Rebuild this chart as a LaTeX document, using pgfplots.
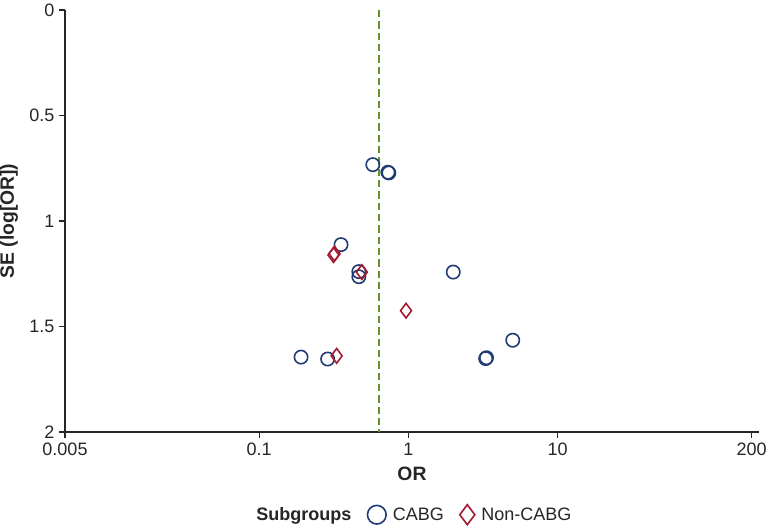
\documentclass[border=0pt]{standalone}
\usepackage{pgfplots}
\pgfplotsset{compat=1.18}
\usepackage{fontspec}
\setmainfont{Liberation Sans}
\definecolor{cabg}{HTML}{1F3B73}
\definecolor{noncabg}{HTML}{A3192E}
\definecolor{refline}{HTML}{62922A}

\begin{document}
\begin{tikzpicture}
\begin{axis}[
    name=ax,
    scale only axis,
    width=520.5pt, height=316.5pt,
    xmode=log,
    xmin=0.005, xmax=224,
    ymin=0, ymax=2,
    y dir=reverse,
    axis lines=left,
    axis line style={-, line width=1.2pt, black!85},
    xtick={0.005,0.1,1,10,200},
    xticklabels={0.005,0.1,1,10,200},
    ytick={0,0.5,1,1.5,2},
    yticklabels={0,0.5,1,1.5,2},
    minor tick num=0,
    tick align=outside,
    major tick length=4.5pt,
    tick style={black!85, line width=0.9pt},
    ticklabel style={font=\fontsize{13.5}{15}\selectfont, text=black!85},
    xlabel={\textbf{OR}},
    ylabel={\textbf{SE (log[OR])}},
    label style={font=\fontsize{14.5}{16}\selectfont, text=black!85},
    xlabel style={yshift=-2pt},
    every axis y label/.style={at={(rel axis cs:0,0.5)}, xshift=-42pt, rotate=90,
        anchor=center, font=\fontsize{14.5}{16}\selectfont, text=black!85},
    legend style={at={(0.5,-0.196)}, anchor=center, draw=none,
        font=\fontsize{13.5}{15}\selectfont, text=black!85,
        /tikz/every odd column/.append style={column sep=3pt},
        /tikz/every even column/.append style={column sep=10pt}},
    legend columns=-1,
    clip=false,
]
\addlegendimage{empty legend}
\addlegendentry{\textbf{Subgroups}}
\addplot[forget plot, refline, line width=1.5pt, dash pattern=on 5.5pt off 3pt]
    coordinates {(0.632,0) (0.632,2)};
\addplot[only marks, mark=o, mark size=5pt, cabg, line width=1.2pt,
    legend image post style={mark size=7pt}] coordinates {
    (0.578,0.733)
    (0.730,0.769) (0.740,0.772)
    (0.354,1.112)
    (0.466,1.240)
    (0.466,1.264)
    (2.00,1.242)
    (0.191,1.645)
    (0.288,1.654)
    (3.34,1.648) (3.30,1.652)
    (5.01,1.565)
};
\addlegendentry{CABG}
\addplot[only marks, mark=diamond, mark size=5.5pt, noncabg, line width=1.2pt,
    legend image post style={mark size=7.5pt}] coordinates {
    (0.315,1.161) (0.320,1.155)
    (0.488,1.242)
    (0.965,1.425)
    (0.331,1.639)
};
\addlegendentry{Non-CABG}
\end{axis}
\pgfresetboundingbox
\path[use as bounding box] ([shift={(-48.75pt,-69.75pt)}]ax.south west) rectangle ([shift={(526.5pt,324pt)}]ax.south west);
\end{tikzpicture}
\end{document}
